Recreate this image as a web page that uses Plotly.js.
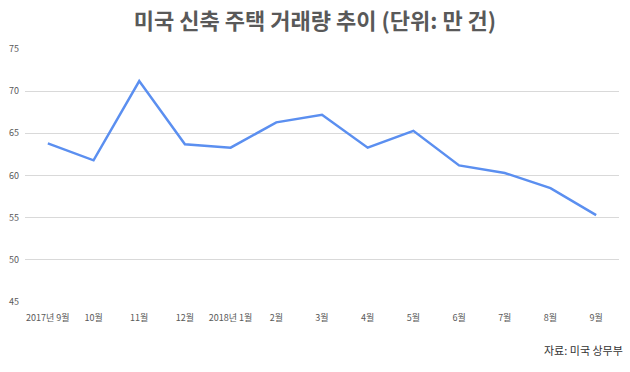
<!DOCTYPE html>
<html>
<head>
<meta charset="utf-8">
<script src="https://cdn.plot.ly/plotly-3.0.1.min.js"></script>
<style>html,body{margin:0;padding:0;background:#fff;}#chart{width:630px;height:372px;}</style>
</head>
<body>
<div id="chart"></div>
<script>
const months = ["2017년 9월","10월","11월","12월","2018년 1월","2월","3월","4월","5월","6월","7월","8월","9월"];
const sales = [63.8, 61.8, 71.2, 63.7, 63.3, 66.3, 67.2, 63.3, 65.3, 61.2, 60.3, 58.5, 55.3];
const yTicks = [45, 50, 55, 60, 65, 70, 75];
const titleText = "미국 신축 주택 거래량 추이 (단위: 만 건)";
const sourceText = "자료: 미국 상무부";

const font = "'Noto Sans CJK KR', 'Noto Sans', sans-serif";

Plotly.newPlot("chart", [{
  x: months,
  y: sales,
  type: "scatter",
  mode: "lines",
  line: {color: "#5b8ff0", width: 2.5},
  hoverinfo: "skip"
}], {
  width: 630, height: 372,
  margin: {l: 25, r: 11, t: 49, b: 70},
  paper_bgcolor: "#fff", plot_bgcolor: "#fff",
  showlegend: false,
  title: {text: titleText, x: 0.5, xanchor: "center", y: 0.943, yanchor: "middle",
          font: {family: font, size: 22, color: "#595959", weight: "bold"}},
  xaxis: {type: "category", range: [-0.5, 12.5], showgrid: false, zeroline: false, showline: false,
          ticks: "", ticklabelstandoff: 9, tickfont: {family: font, size: 9, color: "#595959"}, tickangle: 0},
  yaxis: {range: [45, 75], tickvals: yTicks, showgrid: true, gridcolor: "#d9d9d9", gridwidth: 1,
          zeroline: false, showline: false, ticks: "", ticklabelstandoff: 5,
          tickfont: {family: font, size: 9, color: "#595959"}},
  annotations: [{text: sourceText, xref: "paper", yref: "paper", x: 1.01, xanchor: "right",
                 y: -0.19, yanchor: "middle", showarrow: false,
                 font: {family: font, size: 11, color: "#333"}}]
}, {staticPlot: true});
</script>
</body>
</html>
